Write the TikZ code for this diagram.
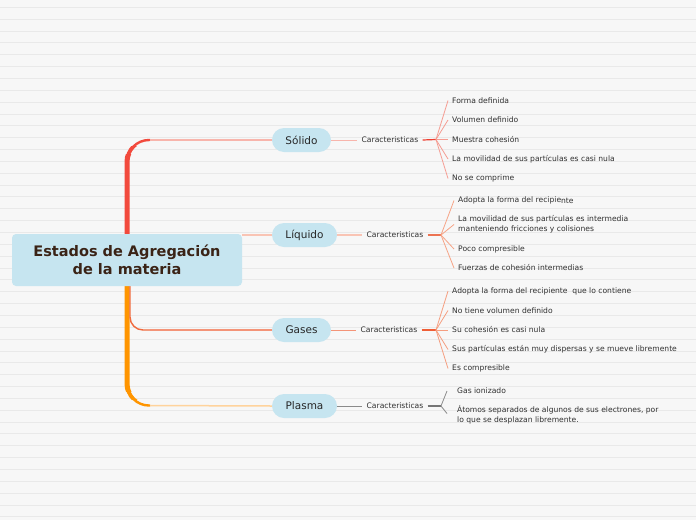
\documentclass[tikz,border=0pt]{standalone}
\usepackage{fontspec}
\setmainfont{DejaVu Sans}
\usetikzlibrary{calc}
\pgfdeclarelayer{bg}
\pgfdeclarelayer{mid}
\pgfsetlayers{bg,mid,main}
\definecolor{bgc}{HTML}{F7F7F7}
\definecolor{gridc}{HTML}{E9E9E9}
\definecolor{nodec}{HTML}{C6E5F0}
\definecolor{trred}{HTML}{F24A3D}
\definecolor{trorange}{HTML}{FF9500}
\definecolor{gasc}{HTML}{F06A3E}
\definecolor{pinkl}{HTML}{F8B5AC}
\definecolor{liql}{HTML}{F9C4B4}
\definecolor{gasl}{HTML}{F49478}
\definecolor{plasl}{HTML}{FFD39C}
\definecolor{solfan}{HTML}{F59C92}
\definecolor{solthick}{HTML}{EE3E30}
\definecolor{liqfan}{HTML}{F6A486}
\definecolor{liqthick}{HTML}{EC7352}
\definecolor{gasfan}{HTML}{F59E80}
\definecolor{gasthick}{HTML}{EF5E36}
\definecolor{greyl}{HTML}{8A8A8A}
\definecolor{titlec}{HTML}{3A2316}
\definecolor{txtc}{HTML}{303030}
\tikzset{
  centralbox/.style={fill=nodec, rounded corners=4pt, minimum width=230pt, minimum height=52pt,
    align=center, text=titlec, font=\fontsize{14.5}{18}\selectfont\bfseries, inner sep=0pt},
  pill/.style={fill=nodec, rounded corners=12pt, minimum height=24pt, inner sep=0pt,
    text=txtc!80!black, font=\fontsize{10.5}{12}\selectfont},
  carbox/.style={font=\fontsize{7.6}{9}\selectfont, text=txtc, inner xsep=4pt, inner ysep=1pt},
  leaf/.style={anchor=west, font=\fontsize{7.6}{10.2}\selectfont, text=txtc, inner xsep=4pt, inner ysep=1pt, align=left},
  leafwide/.style={leaf, inner xsep=10pt},
  gridline/.style={draw=gridc, line width=0.9pt},
}
\begin{document}
\begin{tikzpicture}[x=1pt,y=-1pt]
\useasboundingbox (0,0) rectangle (696,520);
\begin{pgfonlayer}{bg}
  \fill[bgc] (0,0) rectangle (696,520);
  \foreach \k in {0,...,43} {
    \draw[gridline] (0,{7.3+11.85*\k}) -- (696,{7.3+11.85*\k});
  }
\end{pgfonlayer}

% central node and main topics
\node[centralbox] (center) at (127,260) {Estados de Agregación\\de la materia};
\node[pill, minimum width=59pt] (solido) at (301.5,140) {Sólido};
\node[pill, minimum width=65pt] (liquido) at (304.5,235) {Líquido};
\node[pill, minimum width=59pt] (gases) at (301.5,330) {Gases};
\node[pill, minimum width=65pt] (plasma) at (304.5,406) {Plasma};

% Caracteristicas
\node[carbox] (car1) at (390,140) {Caracteristicas};
\node[carbox] (car2) at (395,235) {Caracteristicas};
\node[carbox] (car3) at (389,330) {Caracteristicas};
\node[carbox] (car4) at (395,406) {Caracteristicas};

% leaves
\node[leaf] (s1) at (448,100.5) {Forma definida};
\node[leaf] (s2) at (448,120) {Volumen definido};
\node[leaf] (s3) at (448,139.5) {Muestra cohesión};
\node[leaf] (s4) at (448,159) {La movilidad de sus partículas es casi nula};
\node[leaf] (s5) at (448,178.5) {No se comprime};

\node[leaf] (l1) at (454,200.5) {Adopta la forma del recipie\raisebox{-1.3pt}{nte}};
\node[leaf] (l2) at (454,224.5) {La movilidad de sus partículas es intermedia\\manteniendo fricciones y colisiones};
\node[leaf] (l3) at (454,249) {Poco compresible};
\node[leaf] (l4) at (454,268) {Fuerzas de cohesión intermedias};

\node[leaf] (g1) at (448,291) {Adopta la forma del recipiente\ \ que lo contiene};
\node[leaf] (g2) at (448,310.5) {No tiene volumen definido};
\node[leaf] (g3) at (448,330) {Su cohesión es casi nula};
\node[leaf] (g4) at (448,349.5) {Sus partículas están muy dispersas y se mueve libremente};
\node[leaf] (g5) at (448,368.5) {Es compresible};

\node[leafwide] (p1) at (447,391) {Gas ionizado};
\node[leafwide] (p2) at (447,415) {Átomos separados de algunos de sus electrones, por\\lo que se desplazan libremente.};

% connector coordinates
\coordinate (sA) at (150,140);
\coordinate (pA) at (150,405.5);
\coordinate (gS) at (130,286);
\coordinate (gA) at (150,330);
\coordinate (f1) at (436,139.5);
\coordinate (f2) at (441,235);
\coordinate (f3) at (436,330);
\coordinate (f4) at (441,406);

\begin{pgfonlayer}{mid}
  % trunk (tapering curves)
  \draw[trred, line width=2.4pt, rounded corners=22pt] (center.center) |- (sA);
  \begin{scope}
    \clip (100,146) rectangle (160,300);
    \draw[trred, line width=3.8pt, rounded corners=22pt] (center.center) |- (sA);
  \end{scope}
  \begin{scope}
    \clip (100,154) rectangle (160,300);
    \draw[trred, line width=5pt, rounded corners=22pt] (center.center) |- (sA);
  \end{scope}
  \draw[trorange, line width=2.4pt, rounded corners=22pt] (center.center) |- (pA);
  \begin{scope}
    \clip (100,220) rectangle (160,399.5);
    \draw[trorange, line width=3.8pt, rounded corners=22pt] (center.center) |- (pA);
  \end{scope}
  \begin{scope}
    \clip (100,220) rectangle (160,391.5);
    \draw[trorange, line width=5pt, rounded corners=22pt] (center.center) |- (pA);
  \end{scope}
  \draw[gasc, line width=1.4pt, rounded corners=13pt] (gS) |- (gA);
  % branches to main topics
  \draw[pinkl, line width=1.4pt] (sA) -- (solido.west);
  \draw[liql, line width=2pt] (center.east |- liquido) -- (liquido.west);
  \draw[gasl, line width=1.3pt] (gA) -- (gases.west);
  \draw[plasl, line width=1.5pt] (pA) -- (plasma.west);
  % topic to Caracteristicas
  \draw[pinkl, line width=1pt] (solido.east) -- (car1.west);
  \draw[liql, line width=1.8pt] (liquido.east) -- (car2.west);
  \draw[gasl, line width=1pt] (gases.east) -- (car3.west);
  \draw[greyl, line width=1pt] (plasma.east) -- (car4.west);
  % thick stubs
  \draw[solthick, line width=1.2pt] (car1.east) -- (f1);
  \draw[liqthick, line width=2.2pt] (car2.east) -- (f2);
  \draw[gasthick, line width=1.8pt] (car3.east) -- (f3);
  \draw[greyl!85!black, line width=1.8pt] (car4.east) -- (f4);
  % fans
  \foreach \n in {s1,s2,s3,s4,s5} { \draw[solfan, line width=0.8pt] (f1) -- (\n.west); }
  \foreach \n in {l1,l2,l3,l4} { \draw[liqfan, line width=0.8pt] (f2) -- (\n.west); }
  \foreach \n in {g1,g2,g3,g4,g5} { \draw[gasfan, line width=0.8pt] (f3) -- (\n.west); }
  \draw[greyl, line width=0.8pt] (f4) -- (p1.west);
  \draw[greyl, line width=0.8pt] (f4) -- ($(p2.west)+(0,-1.5)$);
\end{pgfonlayer}
\end{tikzpicture}
\end{document}
